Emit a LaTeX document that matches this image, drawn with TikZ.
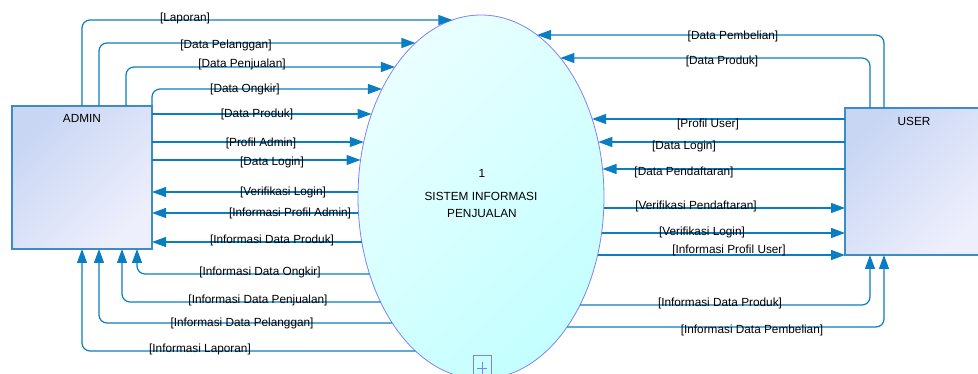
\documentclass[tikz,border=0pt]{standalone}
\usepackage{fontspec}
\setmainfont{Liberation Sans}
\usetikzlibrary{arrows.meta,shapes.geometric}
\definecolor{flowc}{RGB}{10,125,195}
\definecolor{boxline}{RGB}{60,140,200}
\definecolor{boxdark}{RGB}{200,214,244}
\definecolor{boxlight}{RGB}{238,239,252}
\definecolor{ellline}{RGB}{128,128,250}
\definecolor{elllight}{RGB}{234,255,255}
\definecolor{elldark}{RGB}{196,255,255}
\begin{document}
\begin{tikzpicture}[x=1pt,y=-1pt,
  declare function={exl(\v)=481-123*sqrt(1-((\v-197)/182)^2);
                    exr(\v)=481+123*sqrt(1-((\v-197)/182)^2);},
  flow/.style={draw=flowc, line width=1.2pt, rounded corners=8pt,
               -{Triangle[length=14pt,width=10pt]}},
  lbl/.style={font=\fontsize{11.8}{13}\selectfont, inner sep=0pt, text=black},
  ebox/.style={draw=boxline, line width=1.4pt, top color=boxdark, bottom color=boxlight,
               shading angle=45, inner sep=0pt, outer sep=0pt},
  proc/.style={ellipse, draw=ellline, line width=0.8pt, top color=elllight, bottom color=elldark,
               shading angle=45, inner sep=0pt, outer sep=0pt}]
\useasboundingbox (0,0) rectangle (978,374);
\clip (0,0) rectangle (978,374);
% entities
\node[ebox, minimum width=140pt, minimum height=143pt] (admin) at (82,177.5) {};
\node[ebox, minimum width=139pt, minimum height=147pt] (user) at (914.5,181.5) {};
\node[lbl] (adminlbl) at (82,118) {ADMIN};
\node[lbl] (userlbl) at (914,121) {USER};
% process
\node[proc, minimum width=246pt, minimum height=364pt] (proc) at (481,197) {};
\node[lbl] (pnum) at (482,173) {1};
\node[lbl] (pname1) at (481,196) {SISTEM INFORMASI};
\node[lbl] (pname2) at (482,213) {PENJUALAN};
\node[draw=ellline, line width=0.8pt, minimum width=18pt, minimum height=24pt, inner sep=0pt,
      text=ellline] (expand) at (482,367) {};
\draw[ellline, line width=0.8pt] ([yshift=-1pt]expand.center) ++(-5,0) -- ++(10,0)
      ([yshift=-1pt]expand.center) ++(0,-6) -- ++(0,12);
% admin -> process
\draw[flow] (82,0 |- admin.north) |- ({exl(20)},20);
\draw[flow] (99,0 |- admin.north) |- ({exl(43)},43);
\draw[flow] (126,0 |- admin.north) |- ({exl(67)},67);
\draw[flow] (152,0 |- admin.north) |- ({exl(89)},89);
\draw[flow] (admin.east |- 0,114) -- ({exl(114)},114);
\draw[flow] (admin.east |- 0,142) -- ({exl(142)},142);
\draw[flow] (admin.east |- 0,160) -- ({exl(160)},160);
% process -> admin
\draw[flow] ({exl(192)},192) -- (admin.east |- 0,192);
\draw[flow] ({exl(213)},213) -- (admin.east |- 0,213);
\draw[flow] ({exl(242)},242) -- (admin.east |- 0,242);
\draw[flow] ({exl(274)},274) -| (137,0 |- admin.south);
\draw[flow] ({exl(302)},302) -| (122,0 |- admin.south);
\draw[flow] ({exl(323)},323) -| (99,0 |- admin.south);
\draw[flow] ({exl(351)},351) -| (82,0 |- admin.south);
% user -> process
\draw[flow] (884,0 |- user.north) |- ({exr(35)},35);
\draw[flow] (870,0 |- user.north) |- ({exr(58)},58);
\draw[flow] (user.west |- 0,119) -- ({exr(119)},119);
\draw[flow] (user.west |- 0,142) -- ({exr(142)},142);
\draw[flow] (user.west |- 0,169) -- ({exr(169)},169);
% process -> user
\draw[flow] ({exr(208)},208) -- (user.west |- 0,208);
\draw[flow] ({exr(233)},233) -- (user.west |- 0,233);
\draw[flow] ({exr(255)},255) -- (user.west |- 0,255);
\draw[flow] ({exr(305)},305) -| (870,0 |- user.south);
\draw[flow] ({exr(327)},327) -| (884,0 |- user.south);
% labels left
\node[lbl] (t1) at (185,18) {[Laporan]};
\node[lbl] (t2) at (226,45) {[Data Pelanggan]};
\node[lbl] (t3) at (242,64) {[Data Penjualan]};
\node[lbl] (t4) at (245,89) {[Data Ongkir]};
\node[lbl] (t5) at (257,114) {[Data Produk]};
\node[lbl] (t6) at (261,143) {[Profil Admin]};
\node[lbl] (t7) at (272,162) {[Data Login]};
\node[lbl] (t8) at (283,192) {[Verifikasi Login]};
\node[lbl] (t9) at (290,213) {[Informasi Profil Admin]};
\node[lbl] (t10) at (272,240) {[Informasi Data Produk]};
\node[lbl] (t11) at (260,272) {[Informasi Data Ongkir]};
\node[lbl] (t12) at (258,300) {[Informasi Data Penjualan]};
\node[lbl] (t13) at (242,323) {[Informasi Data Pelanggan]};
\node[lbl] (t14) at (200,349) {[Informasi Laporan]};
% labels right
\node[lbl] (t15) at (733,36) {[Data Pembelian]};
\node[lbl] (t16) at (722,61) {[Data Produk]};
\node[lbl] (t17) at (708,124) {[Profil User]};
\node[lbl] (t18) at (684,146) {[Data Login]};
\node[lbl] (t19) at (684,172) {[Data Pendaftaran]};
\node[lbl] (t20) at (696,206) {[Verifikasi Pendaftaran]};
\node[lbl] (t21) at (702,232) {[Verifikasi Login]};
\node[lbl] (t22) at (729,250) {[Informasi Profil User]};
\node[lbl] (t23) at (720,303) {[Informasi Data Produk]};
\node[lbl] (t24) at (752,330) {[Informasi Data Pembelian]};
\end{tikzpicture}
\end{document}
